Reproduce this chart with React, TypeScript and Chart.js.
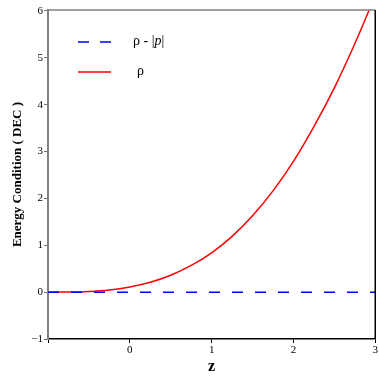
import React, { useEffect, useRef } from "react";
import { Chart, registerables } from "chart.js";

Chart.register(...registerables);

const zValues = [-1, -0.75, -0.5, -0.25, 0, 0.25, 0.5, 0.75, 1, 1.25, 1.5, 1.75, 2, 2.25, 2.5, 2.75, 3];
const rhoValues = [0, 0.002, 0.013, 0.045, 0.11, 0.21, 0.36, 0.57, 0.84, 1.19, 1.63, 2.16, 2.79, 3.53, 4.36, 5.3, 6.33];
const decValues = [0, 0, 0, 0, 0, 0, 0, 0, 0, 0, 0, 0, 0, 0, 0, 0, 0];
const xTicks = [-1, 0, 1, 2, 3];
const yTicks = [-1, 0, 1, 2, 3, 4, 5, 6];
const yTitle = "Energy Condition ( DEC )";
const xTitle = "z";
const legendDec = "ρ - |p|";
const legendRho = "ρ";

const SERIF = "'Liberation Serif', 'Times New Roman', serif";

const fmt = (v: number) => (v < 0 ? "\u2212" + Math.abs(v) : String(v));

const framePlugin = {
  id: "frame",
  afterDraw(chart: any) {
    const { ctx, chartArea } = chart;
    const { left, right, top, bottom } = chartArea;
    ctx.save();
    ctx.lineWidth = 1.5;
    ctx.strokeStyle = "#808080";
    ctx.beginPath();
    ctx.moveTo(left, top);
    ctx.lineTo(right, top);
    ctx.stroke();
    ctx.strokeStyle = "#000";
    ctx.beginPath();
    ctx.moveTo(right, top);
    ctx.lineTo(right, bottom);
    ctx.stroke();

    // legend
    ctx.lineWidth = 1.5;
    ctx.strokeStyle = "#0000ff";
    ctx.setLineDash([11, 11]);
    ctx.beginPath();
    ctx.moveTo(78, 42);
    ctx.lineTo(111, 42);
    ctx.stroke();
    ctx.setLineDash([]);
    ctx.strokeStyle = "#ff0000";
    ctx.beginPath();
    ctx.moveTo(78, 72);
    ctx.lineTo(111, 72);
    ctx.stroke();

    ctx.fillStyle = "#000";
    ctx.textBaseline = "middle";
    ctx.textAlign = "left";
    ctx.font = `14px ${SERIF}`;
    const parts = legendDec.split("p");
    let x = 133;
    ctx.fillText(parts[0], x, 41);
    x += ctx.measureText(parts[0]).width;
    ctx.font = `italic 14px ${SERIF}`;
    ctx.fillText("p", x, 41);
    x += ctx.measureText("p").width;
    ctx.font = `14px ${SERIF}`;
    ctx.fillText(parts[1] || "", x, 41);
    ctx.fillText(legendRho, 137, 71);
    ctx.restore();
  },
};

export default function App() {
  const ref = useRef<HTMLCanvasElement>(null);
  useEffect(() => {
    const chart = new Chart(ref.current as HTMLCanvasElement, {
      type: "line",
      data: {
        datasets: [
          {
            label: legendDec,
            data: zValues.map((z, i) => ({ x: z, y: decValues[i] })),
            borderColor: "#0000ff",
            borderWidth: 1.5,
            borderDash: [11, 12],
            pointRadius: 0,
            fill: false,
          },
          {
            label: legendRho,
            data: zValues.map((z, i) => ({ x: z, y: rhoValues[i] })),
            borderColor: "#ff0000",
            borderWidth: 1.5,
            pointRadius: 0,
            cubicInterpolationMode: "monotone",
            fill: false,
          },
        ],
      },
      options: {
        animation: false,
        responsive: true,
        maintainAspectRatio: false,
        layout: { padding: { top: 10, right: 2, left: 0, bottom: 0 } },
        plugins: { legend: { display: false }, tooltip: { enabled: false } },
        scales: {
          x: {
            type: "linear",
            min: -1,
            max: 3,
            afterBuildTicks: (s: any) => {
              s.ticks = xTicks.map((v) => ({ value: v }));
            },
            afterFit: (s: any) => {
              s.height = 40;
            },
            ticks: {
              padding: 1,
              color: "#000",
              font: { family: SERIF, size: 11 },
              callback: (v: any) => (v === -1 ? "" : fmt(v)),
              maxRotation: 0,
            },
            grid: { drawOnChartArea: false, drawTicks: true, tickLength: 4, color: "#000" },
            border: { display: true, color: "#000", width: 1.5 },
            title: {
              display: true,
              text: xTitle,
              color: "#000",
              font: { family: SERIF, size: 16, weight: "bold" },
              padding: { top: 0, bottom: 3 },
            },
          },
          y: {
            type: "linear",
            min: -1,
            max: 6.02,
            afterBuildTicks: (s: any) => {
              s.ticks = yTicks.map((v) => ({ value: v }));
            },
            afterFit: (s: any) => {
              s.width = 48;
            },
            ticks: {
              padding: 1,
              color: "#000",
              font: { family: SERIF, size: 11 },
              callback: (v: any) => fmt(v),
            },
            grid: { drawOnChartArea: false, drawTicks: true, tickLength: 4, color: "#707070" },
            border: { display: true, color: "#808080", width: 2 },
            title: {
              display: true,
              text: yTitle,
              color: "#000",
              font: { family: SERIF, size: 13, weight: "bold" },
              padding: { top: 10, bottom: 0 },
            },
          },
        },
      },
      plugins: [framePlugin],
    } as any);
    return () => chart.destroy();
  }, []);
  return (
    <div style={{ position: "absolute", left: 0, top: 0, width: 379, height: 379, background: "#fff" }}>
      <canvas ref={ref} />
    </div>
  );
}
